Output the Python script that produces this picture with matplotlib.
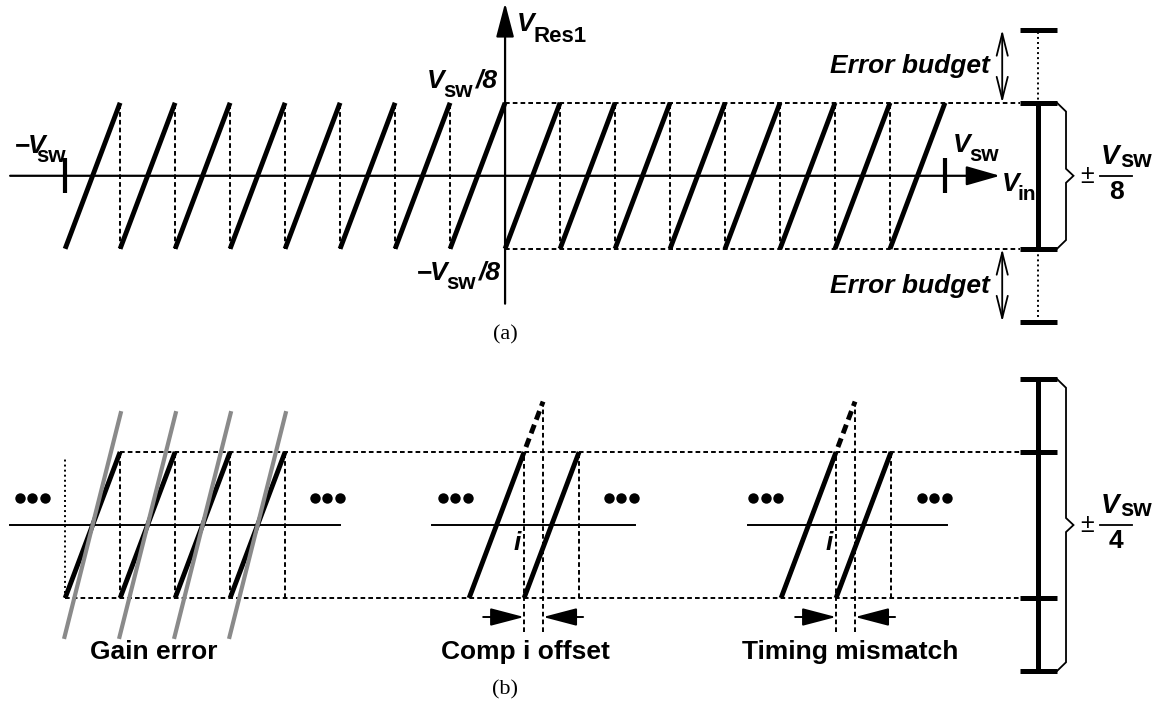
import matplotlib
matplotlib.use("Agg")
import matplotlib.pyplot as plt
from matplotlib.patches import FancyArrowPatch

plt.rcParams['font.family'] = ['Liberation Sans', 'DejaVu Sans']

# all values in units of Vsw
# panel (a): the 16 sub-ranges of the first stage, lower edge of each
sub_lo_a = [-1.0, -0.875, -0.75, -0.625, -0.5, -0.375, -0.25, -0.125,
            0.0, 0.125, 0.25, 0.375, 0.5, 0.625, 0.75, 0.875]
lsb = 0.125            # width of one sub-range
res_full = 0.125       # ideal residue swing, +-Vsw/8
res_budget = 0.25      # allowed swing, +-Vsw/4
vin_ticks = [-1.0, 1.0]

# panel (b)
gain_lo = [-1.0, -0.875, -0.75, -0.625]
gain_factor = 1.5
trans_ideal = [0.0864, 0.7955]     # comparator offset, timing mismatch
trans_shift = 0.0432
labels_b = ['Gain error', 'Comp i offset', 'Timing mismatch']
labels_b_x = [-0.798, 0.0455, 0.784]
midlines_b = [(-1.125, -0.375), (-0.166, 0.2955), (0.552, 1.0045)]
dots_b = [-1.075, -0.4045, -0.1136, 0.2636, 0.593, 0.975]

fig = plt.figure(figsize=(11.65, 7.23), dpi=100)
axa = fig.add_axes([0, 0, 1, 1])
axa.set_xlim(-1.148, 1.5)
axa.set_ylim(-0.937, 0.301)
axb = fig.add_axes([0, 0, 1, 1])
axb.set_xlim(-1.148, 1.5)
axb.set_ylim(-0.339, 0.899)
for ax in (axa, axb):
    ax.axis('off')
    ax.patch.set_alpha(0)

K = 'black'
SEG = dict(color=K, lw=3.5, solid_capstyle='butt')
DASH = dict(color=K, lw=1.4, ls=(0, (2.4, 1.6)))
DOT = dict(color=K, lw=1.4, ls=(0, (1, 1.6)))
BAR = dict(color=K, lw=3.6, solid_capstyle='butt')
BX0, BX, BX1 = 1.170, 1.211, 1.2545     # bracket cap span


def arrow(ax, p0, p1, style, lw=1.4, scale=10):
    ax.add_patch(FancyArrowPatch(p0, p1, arrowstyle=style, mutation_scale=scale,
                                 lw=lw, color=K, shrinkA=0, shrinkB=0))


def vlabel(ax, x, y, sub, tail='', lead='', size=19, sub_size=16, sub_dx=0.62,
           sub_dy=0.35):
    width = {'sw': 1.334, 'Res1': 2.39, 'in': 0.889}
    kw = dict(textcoords='offset points', va='baseline', ha='left')
    ax.annotate('V', (x, y), xytext=(0, 0), fontsize=size, fontweight='bold',
                fontstyle='italic', **kw)
    ax.annotate(sub, (x, y), xytext=(sub_dx * size, -sub_dy * size),
                fontsize=sub_size, fontweight='bold', **kw)
    if tail:
        ax.annotate(tail, (x, y), xytext=(sub_dx * size + width[sub] * sub_size + 2, 0),
                    fontsize=size, fontweight='bold', fontstyle='italic', **kw)
    if lead:
        kw['ha'] = 'right'
        ax.annotate(lead, (x, y), xytext=(0.08 * size, 0), fontsize=size,
                    fontweight='bold', **kw)


def fraction(ax, y, digit):
    ax.text(1.3227, y, '\u00b1', fontsize=18, ha='center', va='center')
    ax.plot([1.352, 1.425], [y, y], color=K, lw=1.3)
    ax.annotate('V', (1.354, y), xytext=(0, 4), textcoords='offset points',
                fontsize=20, fontweight='bold', fontstyle='italic', va='bottom')
    ax.annotate('sw', (1.354, y), xytext=(14, 3), textcoords='offset points',
                fontsize=17, fontweight='bold', va='bottom')
    ax.annotate(digit, (1.389, y), xytext=(0, -3), textcoords='offset points',
                fontsize=19, fontweight='bold', ha='center', va='top')


def brace(ax, top, bot, mid):
    xs = [BX1, 1.275, 1.275, 1.292, 1.275, 1.275, BX1]
    ys = [top, top - 0.015, mid + 0.012, mid, mid - 0.012, bot + 0.015, bot]
    ax.plot(xs, ys, color=K, lw=1.3, solid_joinstyle='miter')


# ---------------- panel (a) ----------------
ax = axa
ax.plot([0, BX0], [res_full, res_full], **DASH)
ax.plot([0, BX0], [-res_full, -res_full], **DASH)
for lo in sub_lo_a:
    hi = lo + lsb
    if hi != 0 and hi < vin_ticks[1]:
        ax.plot([hi, hi], [-res_full, res_full], **DASH)
for lo in sub_lo_a:
    ax.plot([lo, lo + lsb], [-res_full, res_full], **SEG)

arrow(ax, (-1.125, 0), (1.125, 0), '-|>,head_length=2.1,head_width=0.6', lw=1.6)
arrow(ax, (0, -0.219), (0, 0.296), '-|>,head_length=2.1,head_width=0.55', lw=1.6)
for v in vin_ticks:
    ax.plot([v, v], [-0.03, 0.03], color=K, lw=3, solid_capstyle='butt')

# error budget bracket
ax.plot([BX, BX], [-res_budget, res_budget], **DOT)
ax.plot([BX, BX], [-res_full, res_full], **BAR)
for yy in (res_budget, res_full, -res_full, -res_budget):
    ax.plot([BX0, BX1], [yy, yy], **BAR)
for sgn in (1, -1):
    arrow(ax, (1.13, sgn * res_full), (1.13, sgn * res_budget),
          '<->,head_length=1.6,head_width=0.4', lw=1.3)
    ax.text(1.102, sgn * 0.188, 'Error budget', fontsize=19, fontweight='bold',
            fontstyle='italic', ha='right', va='center')
brace(ax, res_full, -res_full, 0)
fraction(ax, 0, '8')

vlabel(ax, 0.027, 0.248, 'Res1', sub_dy=0.42)
vlabel(ax, -0.177, 0.151, 'sw', tail='/8')
vlabel(ax, -0.170, -0.178, 'sw', tail='/8', lead='\u2212')
vlabel(ax, -1.084, 0.039, 'sw', lead='\u2212', sub_dx=0.3)
vlabel(ax, 1.018, 0.041, 'sw')
vlabel(ax, 1.130, -0.026, 'in', sub_size=15, sub_dx=0.58)
ax.text(0, -0.272, '(a)', fontsize=16, family='Liberation Serif',
        ha='center', va='center')

# ---------------- panel (b) ----------------
ax = axb
ax.plot([gain_lo[1], BX0], [res_full, res_full], **DASH)
ax.plot([gain_lo[0], BX0], [-res_full, -res_full], **DASH)
for x0, x1 in midlines_b:
    ax.plot([x0, x1], [0, 0], color=K, lw=1.4)
for c in dots_b:
    ax.plot([c - 0.0284, c, c + 0.0284], [0.0462] * 3, 'o', color=K, ms=7.5, mew=0)

# gain error: ideal residues and the steeper ones
ax.plot([gain_lo[0], gain_lo[0]], [-res_full, 0.115], **DOT)
for lo in gain_lo:
    hi = lo + lsb
    ax.plot([hi, hi], [-res_full, res_full], **DASH)
    ax.plot([lo, hi], [-res_full, res_full], **SEG)
    c = lo + lsb / 2
    half = lsb / 2 + 0.0025
    ax.plot([c - half, c + half], [-2 * gain_factor * half, 2 * gain_factor * half],
            color='#8a8a8a', lw=3, solid_capstyle='butt')

# comparator offset and timing mismatch: transition moves by trans_shift
for xt in trans_ideal:
    xs = xt - trans_shift
    ax.plot([xs + lsb] * 2, [-res_full, res_full], **DASH)
    ax.plot([xs, xs], [-0.183, res_full], **DASH)
    top = res_full + 2 * trans_shift
    ax.plot([xt, xt], [-0.183, top], **DASH)
    ax.plot([xs - lsb, xs], [-res_full, res_full], **SEG)
    ax.plot([xs, xs + lsb], [-res_full, res_full], **SEG)
    ax.plot([xs, xt], [res_full, top], color=K, lw=3.5, ls=(1.9, (1.9, 1.1)),
            dash_capstyle='butt')
    arrow(ax, (xs - 0.093, -0.1575), (xs, -0.1575),
          '-|>,head_length=2.1,head_width=0.55', lw=1.4)
    arrow(ax, (xt + 0.091, -0.1575), (xt, -0.1575),
          '-|>,head_length=2.1,head_width=0.55', lw=1.4)
    ax.text(xs - 0.016, -0.031, 'i', fontsize=19, fontweight='bold',
            fontstyle='italic', ha='center', va='center')

for txt, x in zip(labels_b, labels_b_x):
    ax.text(x, -0.2175, txt, fontsize=19, fontweight='bold', ha='center', va='center')

# error bracket
ax.plot([BX, BX], [-res_budget, res_budget], **BAR)
for yy in (res_budget, res_full, -res_full, -res_budget):
    ax.plot([BX0, BX1], [yy, yy], **BAR)
brace(ax, res_budget, -res_budget, 0)
fraction(ax, 0, '4')
ax.text(0, -0.2825, '(b)', fontsize=16, family='Liberation Serif',
        ha='center', va='center')

fig.savefig('out.png', dpi=100)
